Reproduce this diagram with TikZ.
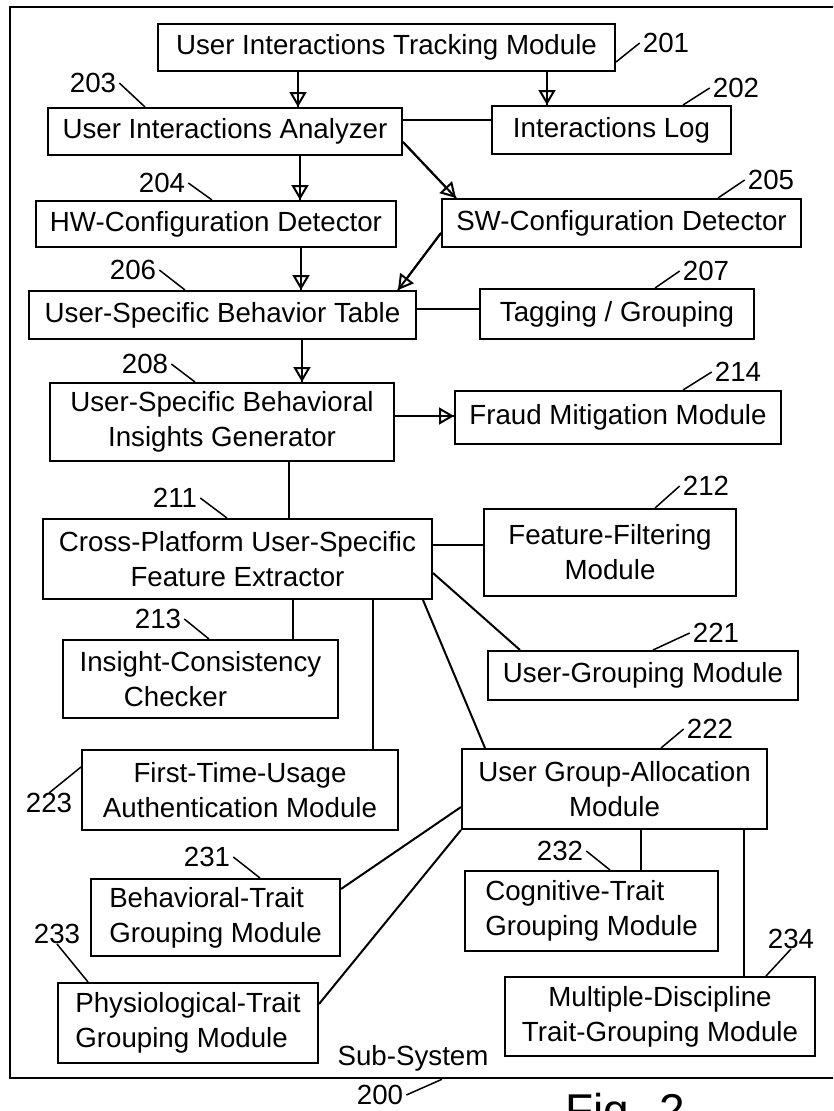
\documentclass[tikz,border=0pt]{standalone}
\usepackage{fontspec}
\setmainfont{Liberation Sans}
\usetikzlibrary{arrows.meta}

\tikzset{
  module/.style={draw, line width=2pt, inner sep=0pt, align=center},
  tri/.style={-{Triangle[open,length=15pt,width=17pt]}, postaction={draw,-}},
  link/.style={line width=2pt},
  leader/.style={line width=1.5pt},
}

\begin{document}
\begin{tikzpicture}[x=1pt,y=-1pt,font=\fontsize{27.7}{35}\selectfont]
\useasboundingbox (0,0) rectangle (833,1111);
\clip (0,0) rectangle (833,1111);
%% sub-system frame
\node (frame) at (435,542.5) [draw, line width=2.5pt, minimum width=850, minimum height=1071] {};
\node (sub) at (413,1058) {Sub-System};
\node (fig) at (562,1126) [anchor=base west, font=\fontsize{46}{50}\selectfont] {Fig. 2};
%% modules
\node (tracking) at (386.5,47.5) [module, minimum width=457, minimum height=47] {User Interactions Tracking Module};
\node (analyzer) at (225,131.5) [module, minimum width=354, minimum height=47] {User Interactions Analyzer};
\node (log) at (611.5,130) [module, minimum width=239, minimum height=48] {Interactions Log};
\node (hw) at (216,224) [module, minimum width=360, minimum height=46] {HW-Configuration Detector};
\node (sw) at (621.5,223) [module, minimum width=359, minimum height=48] {SW-Configuration Detector};
\node (table) at (222.5,315) [module, minimum width=387, minimum height=48] {User-Specific Behavior Table};
\node (tagging) at (617,314) [module, minimum width=274, minimum height=50] {Tagging / Grouping};
\node (insights) at (222,422) [module, minimum width=344, minimum height=78] {User-Specific Behavioral\\Insights Generator};
\node (fraud) at (618,417.5) [module, minimum width=326, minimum height=53] {Fraud Mitigation Module};
\node (extractor) at (237.5,559) [module, minimum width=389, minimum height=80] {Cross-Platform User-Specific\\Feature Extractor};
\node (filtering) at (610,552.5) [module, minimum width=252, minimum height=87] {Feature-Filtering\\Module};
\node (checker) at (200.5,679) [module, minimum width=275, minimum height=78] {Insight-Consistency\\Checker\kern50pt};
\node (grouping) at (643,675.5) [module, minimum width=310, minimum height=49] {User-Grouping Module};
\node (allocation) at (614.5,789) [module, minimum width=305, minimum height=80] {User Group-Allocation\\Module};
\node (firsttime) at (240,790) [module, minimum width=316, minimum height=80] {First-Time-Usage\\Authentication Module};
\node (behavioral) at (215.5,917.5) [module, align=left, minimum width=249, minimum height=77] {Behavioral-Trait\\Grouping Module};
\node (cognitive) at (591.5,911) [module, align=left, minimum width=253, minimum height=80] {Cognitive-Trait\\Grouping Module};
\node (physio) at (188,1023) [module, align=left, minimum width=260, minimum height=80] {Physiological-Trait\\Grouping Module};
\node (multi) at (660,1016.5) [module, minimum width=310, minimum height=79] {Multiple-Discipline\\Trait-Grouping Module};
%% reference numerals
\foreach \n/\x/\y in {201/666/43, 202/736/88, 203/93/83, 204/162/183, 205/771/180, 206/133/270,
    207/706/271, 208/145/364, 214/738/372, 211/175/498, 212/706/486, 213/158/619, 221/716/633,
    222/710/729, 223/49/803, 231/207/857, 232/560/851, 233/57/934, 234/791/939, 200/380/1095}
  \node (n\n) at (\x,\y) [inner xsep=3pt, inner ysep=0pt] {\n};
\foreach \n/\s/\b/\x in {202/west/log/683, 203/east/analyzer/145, 204/east/hw/212, 205/west/sw/718,
    206/east/table/185, 207/west/tagging/655, 208/east/insights/195, 214/west/fraud/683,
    211/east/extractor/227, 212/west/filtering/655, 213/east/checker/209, 221/west/grouping/653,
    222/west/allocation/661, 231/east/behavioral/260, 232/east/cognitive/610, 233/south/physio/88,
    234/south/multi/766}
  \draw [leader] (n\n.\s) -- (\b.north -| \x,0);
\draw [leader] (n201.west) -- (tracking.east |- 0,62);
\draw [leader] (n223.north) -- (firsttime.west |- 0,767);
\draw [leader] (n200.east) -- (frame.south -| 442,0);
%% arrows
\draw [link, tri] (tracking.south -| 298,0) -- (analyzer.north -| 298,0);
\draw [link, tri] (tracking.south -| 547,0) -- (log.north -| 547,0);
\draw [link] (analyzer.east |- 0,120) -- (log.west |- 0,120);
\draw [link, tri] (analyzer.south -| 300,0) -- (hw.north -| 300,0);
\draw [link, tri] (analyzer.east |- 0,142) -- (sw.north -| 456,0);
\draw [link, tri] (hw.south -| 301,0) -- (table.north -| 301,0);
\draw [link, tri] (sw.west |- 0,233) -- (table.north -| 398,0);
\draw [link] (table.east |- 0,309) -- (tagging.west |- 0,309);
\draw [link, tri] (table.south -| 302,0) -- (insights.north -| 302,0);
\draw [link, tri] (insights.east |- 0,416) -- (fraud.west |- 0,416);
%% plain links
\draw [link] (insights.south -| 289,0) -- (extractor.north -| 289,0);
\draw [link] (extractor.east |- 0,545) -- (filtering.west |- 0,545);
\draw [link] (extractor.east |- 0,573) -- (grouping.north -| 520,0);
\draw [link] (extractor.south -| 293,0) -- (checker.north -| 293,0);
\draw [link] (extractor.south -| 373,0) -- (firsttime.north -| 373,0);
\draw [link] (extractor.south -| 423,0) -- (allocation.north -| 485,0);
\draw [link] (allocation.west |- 0,807) -- (behavioral.east |- 0,889);
\draw [link] (allocation.south west) -- (physio.east |- 0,1004);
\draw [link] (allocation.south -| 641,0) -- (cognitive.north -| 641,0);
\draw [link] (allocation.south -| 744,0) -- (multi.north -| 744,0);
\end{tikzpicture}
\end{document}
